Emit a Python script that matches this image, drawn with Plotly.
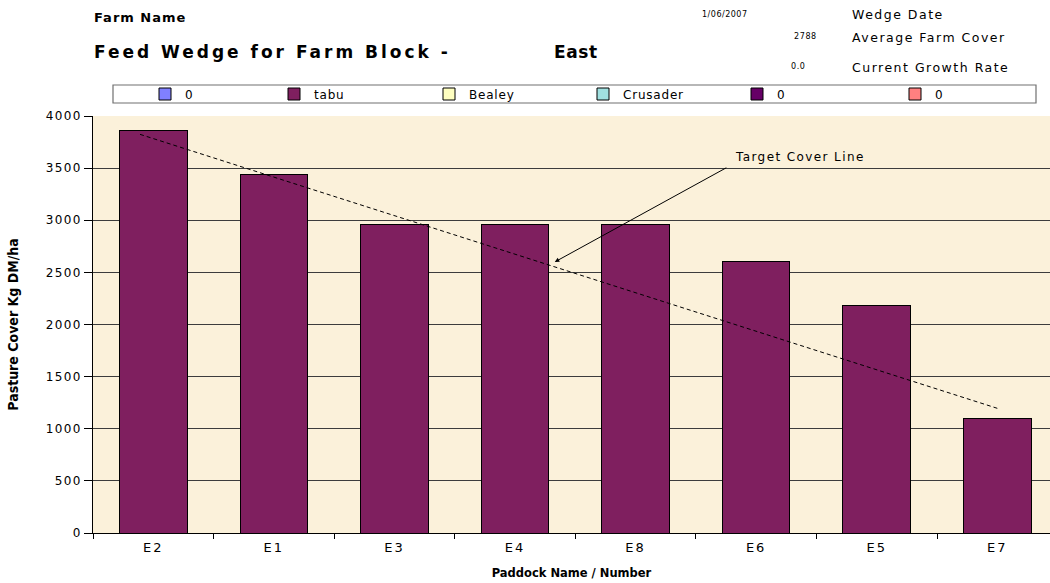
import plotly.graph_objects as go

# ---------------- data ----------------
paddocks = ["E2", "E1", "E3", "E4", "E8", "E6", "E5", "E7"]
tabu_cover = [3860, 3440, 2960, 2960, 2960, 2600, 2180, 1100]
no_cover = [None, None, None, None, None, None, None, None]

series_names = ["0", "tabu", "Bealey", "Crusader", "0", "0"]
series_colors = ["#8080FF", "#7F1F5F", "#FFFFC0", "#A0E0E0", "#660066", "#FF8080"]

y_tick_values = [0, 500, 1000, 1500, 2000, 2500, 3000, 3500, 4000]
y_tick_labels = ["0", "500", "1000", "1500", "2000", "2500", "3000", "3500", "4000"]

# target cover line (category index, kg DM/ha)
target_x = [-0.11, 7.0]
target_y = [3824, 1196]

farm_name = "Farm Name"
block_title = "Feed Wedge for Farm Block -"
block_name = "East"
wedge_date = "1/06/2007"
avg_cover = "2788"
growth_rate = "0.0"

# ---------------- layout helpers ----------------
W, H = 1050, 583
ML, MR, MT, MB = 93, 0, 116, 50
FONT = "DejaVu Sans, Liberation Sans, Arial, sans-serif"
NARROW = "Liberation Sans Narrow, DejaVu Sans Condensed, Arial Narrow, DejaVu Sans, sans-serif"

# left pixel of each legend swatch in the reference
legend_swatch_px = [168, 297, 452, 606, 760, 918]


def PX(x):
    return (x - ML) / (W - ML - MR)


def PY(y):
    return (H - MB - y) / (H - MT - MB)


def sp(text, ls):
    return '<span style="letter-spacing:%spx">%s</span>' % (ls, text)


fig = go.Figure()
legends = {}

for i, (name, color) in enumerate(zip(series_names, series_colors)):
    values = tabu_cover if name == "tabu" else no_cover
    key = "legend" if i == 0 else "legend%d" % (i + 1)
    fig.add_trace(go.Bar(
        x=paddocks, y=values,
        name=sp(name, 0.8),
        legend=key,
        marker=dict(color=color, line=dict(color="black", width=1)),
        hoverinfo="skip",
    ))
    legends[key] = dict(
        x=PX(legend_swatch_px[i] - 23), y=PY(94), xanchor="left", yanchor="middle",
        orientation="h", bgcolor="rgba(0,0,0,0)", borderwidth=0,
        font=dict(family=FONT, size=12, color="black"),
        itemclick=False, itemdoubleclick=False,
    )

shapes = [
    # legend frame
    dict(type="rect", xref="paper", yref="paper",
         x0=PX(113), x1=PX(1036), y0=PY(103), y1=PY(85),
         line=dict(color="#707070", width=1.2), fillcolor="white", layer="below"),
    # target cover line
    dict(type="line", xref="x", yref="y",
         x0=target_x[0], y0=target_y[0], x1=target_x[1], y1=target_y[1],
         line=dict(color="black", width=1, dash="4px,3px"), layer="above"),
]


def txt(x, y, text, size, bold=False, ls=0, anchor="left", color="black"):
    t = "<b>%s</b>" % text if bold else text
    if ls:
        t = sp(t, ls)
    return dict(xref="paper", yref="paper", x=PX(x), y=PY(y), text=t,
                showarrow=False, xanchor=anchor, yanchor="middle",
                font=dict(family=FONT, size=size, color=color))


annotations = [
    txt(92, 18, farm_name, 13, bold=True, ls=1.0),
    txt(92, 52, block_title, 17, bold=True, ls=3.0),
    txt(552, 52, block_name, 17, bold=True, ls=0.6),
    txt(700, 15, wedge_date, 8, ls=0.5),
    txt(792, 36, avg_cover, 8, ls=0.6),
    txt(789, 66, growth_rate, 8, ls=0.6),
    txt(850, 15, "Wedge Date", 12.5, ls=1.5),
    txt(850, 37, "Average Farm Cover", 12.5, ls=1.5),
    txt(850, 67, "Current Growth Rate", 12.5, ls=1.5),
    # arrow of the target line label
    dict(xref="x", yref="y", x=3.33, y=2600, text="", showarrow=True,
         ax=173, ay=-95, arrowhead=2, arrowsize=0.9, arrowwidth=1,
         arrowcolor="black", standoff=0, startstandoff=0),
    txt(733, 157, "Target Cover Line", 12, ls=1.4),
]

fig.update_layout(
    width=W, height=H,
    margin=dict(l=ML, r=MR, t=MT, b=MB, pad=0, autoexpand=False),
    paper_bgcolor="white",
    plot_bgcolor="#FBF1DA",
    barmode="stack",
    bargap=0.44,
    font=dict(family=FONT, size=12, color="black"),
    showlegend=True,
    shapes=shapes,
    annotations=annotations,
    xaxis=dict(
        type="category", range=[-0.5, 7.437], tickson="boundaries",
        tickmode="array", tickvals=paddocks, ticktext=[sp(p, 2) for p in paddocks],
        ticks="outside", ticklen=5, tickcolor="black", tickwidth=1,
        ticklabelstandoff=2,
        showline=True, linecolor="black", linewidth=1, showgrid=False,
        tickfont=dict(family=FONT, size=13),
        title=dict(text="<b>Paddock Name / Number</b>", standoff=15,
                   font=dict(family=FONT, size=11.5)),
        automargin=False, fixedrange=True,
    ),
    yaxis=dict(
        range=[0, 4000], tickmode="array", tickvals=y_tick_values,
        ticktext=[sp(t, 1.3) for t in y_tick_labels],
        ticks="outside", ticklen=8, tickcolor="black", tickwidth=1,
        showline=True, linecolor="black", linewidth=1,
        showgrid=True, gridcolor="#3C3C3C", gridwidth=1, zeroline=False,
        tickfont=dict(family=FONT, size=12),
        title=dict(text="<b>Pasture Cover Kg DM/ha</b>", standoff=23,
                   font=dict(family=NARROW, size=14)),
        automargin=False, fixedrange=True,
    ),
)
fig.update_layout(**legends)

fig.write_html(
    "out.html",
    config=dict(displayModeBar=False),
    post_script="document.body.style.margin='0';document.body.style.overflow='hidden';",
)
